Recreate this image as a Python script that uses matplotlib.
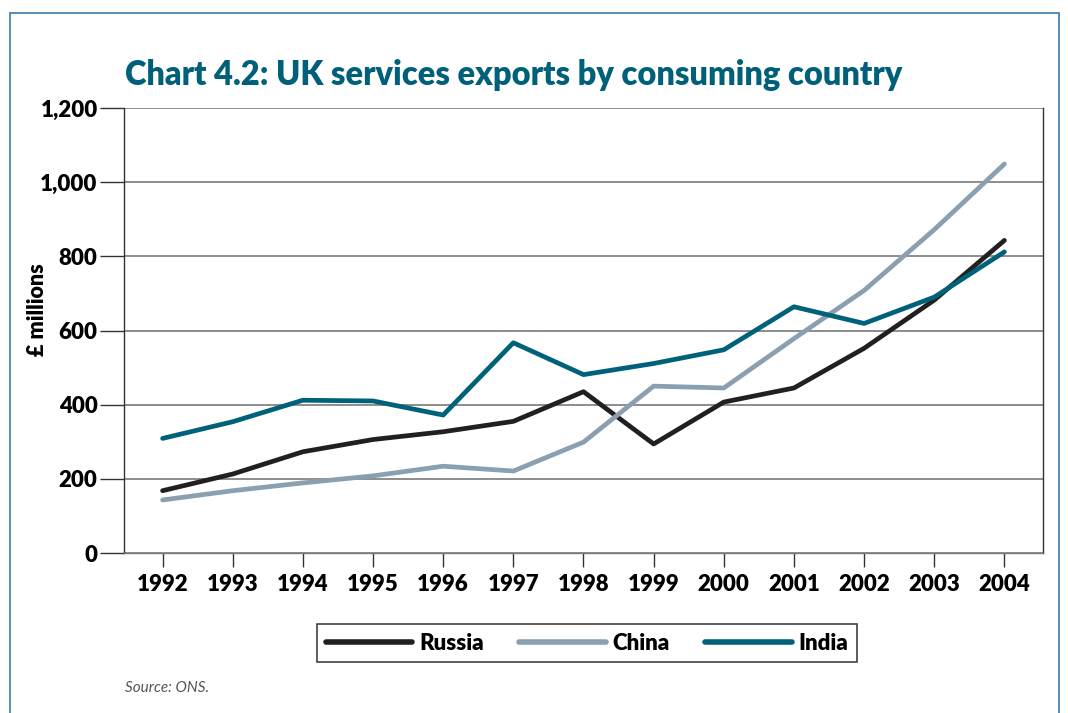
import matplotlib.pyplot as plt
from matplotlib.patches import Rectangle

# UK services exports, £ millions
anos = [1992, 1993, 1994, 1995, 1996, 1997, 1998, 1999, 2000, 2001, 2002, 2003, 2004]
russia = [168, 213, 273, 306, 327, 355, 435, 294, 407, 445, 552, 682, 843]
china = [143, 168, 189, 208, 234, 221, 299, 450, 445, 578, 708, 872, 1049]
india = [309, 354, 412, 410, 372, 567, 481, 511, 548, 664, 619, 690, 812]

y_ticks = [0, 200, 400, 600, 800, 1000, 1200]
y_rotulos = ['0', '200', '400', '600', '800', '1,000', '1,200']

cor_russia = '#231f20'
cor_china = '#8a9fb0'
cor_india = '#00627a'
cor_titulo = '#00607a'

fonte = 'Lato'

fig = plt.figure(figsize=(10.68, 7.13), dpi=100)
ax = fig.add_axes([124 / 1068, 1 - 553 / 713, (1043 - 124) / 1068, (553 - 108) / 713])

# moldura azul em volta de tudo
fig.patches.append(Rectangle((10 / 1068, -0.05), (1059 - 10) / 1068, 1 - 13 / 713 + 0.05,
                             transform=fig.transFigure, fill=False,
                             edgecolor='#4a86ad', linewidth=1.3))

ax.plot(anos, russia, color=cor_russia, lw=3.4, label='Russia', solid_capstyle='round')
ax.plot(anos, china, color=cor_china, lw=3.4, label='China', solid_capstyle='round')
ax.plot(anos, india, color=cor_india, lw=3.4, label='India', solid_capstyle='round')

ax.set_xlim(1991.45, 2004.55)
ax.set_ylim(0, 1200)
ax.set_xticks(anos)
ax.set_xticklabels([str(a) for a in anos], fontsize=16, fontweight='heavy', family=fonte)
ax.set_yticks(y_ticks)
ax.set_yticklabels(y_rotulos, fontsize=16, fontweight='heavy', family=fonte)

ax.yaxis.grid(True, color='#7a7a7a', lw=1.2)
ax.set_axisbelow(True)
ax.spines['top'].set_visible(False)
for lado in ['left', 'right', 'bottom']:
    ax.spines[lado].set_color('#333333')
    ax.spines[lado].set_linewidth(1.0)
ax.spines['bottom'].set_color('#7a7a7a')

ax.tick_params(axis='y', length=17, width=1.0, color='#333333', pad=2)
ax.tick_params(axis='x', length=10, width=1.0, color='#333333', pad=5)

fig.text(37 / 1068, 1 - 310 / 713, '£ millions', fontsize=15.5, fontweight='heavy',
         family=fonte, rotation=90, ha='center', va='center')

fig.text(125 / 1068, 1 - 75 / 713, 'Chart 4.2: UK services exports by consuming country',
         fontsize=23.5, fontweight='heavy', color=cor_titulo, family=fonte, va='center')

leg = ax.legend(loc='center', bbox_to_anchor=(587 / 1068, 1 - 643 / 713),
                bbox_transform=fig.transFigure, ncol=3, frameon=True, fancybox=False,
                handlelength=3.9, columnspacing=1.6, handletextpad=0.3,
                prop={'family': fonte, 'weight': 'heavy', 'size': 16})
leg.get_frame().set_edgecolor('#111111')
leg.get_frame().set_linewidth(1.2)
for linha in leg.get_lines():
    linha.set_linewidth(4)

fig.text(125 / 1068, 1 - 688 / 713, 'Source: ONS.', fontsize=11, style='italic',
         color='#555555', family=fonte, va='center')

fig.savefig('out.png', dpi=100)
